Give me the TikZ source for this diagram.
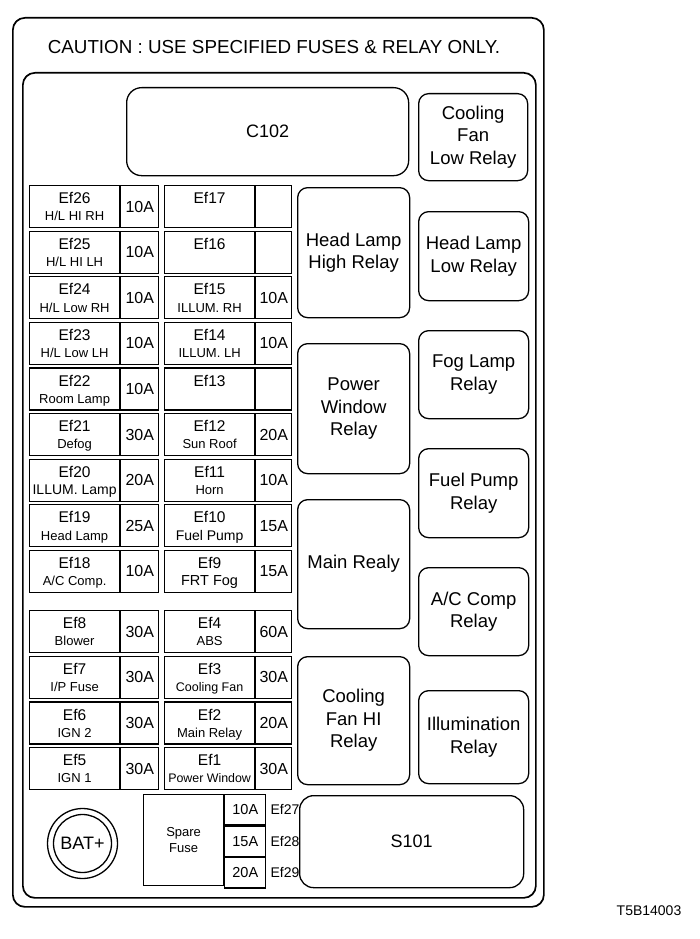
\documentclass[tikz,border=0pt]{standalone}
\usepackage{fontspec}
\setmainfont{Liberation Sans}
\tikzset{
  fbox/.style={draw, line width=1.2pt, inner sep=0pt, anchor=north west},
  relay/.style={draw, line width=1.3pt, rounded corners=10pt, inner sep=0pt, anchor=north west, align=center, font=\fontsize{18.5}{22.5}\selectfont},
  efname/.style={anchor=base, inner sep=0pt, font=\fontsize{15.5}{15.5}\selectfont},
  efsub/.style={anchor=base, inner sep=0pt, font=\fontsize{13}{13}\selectfont},
  ampfont/.style={font=\fontsize{16}{16}\selectfont},
  smalltxt/.style={inner sep=0pt, font=\fontsize{14}{14}\selectfont},
  frame/.style={draw, line width=1.7pt, inner sep=0pt, anchor=north west},
}
% #1 id, #2 x, #3 y(top), #4 name, #5 subtitle, #6 amp, #7 amp width
\newcommand{\fuse}[7]{%
  \node[fbox, minimum width=90, minimum height=42] (#1) at (#2,#3) {};
  \node[fbox, ampfont, minimum width=#7, minimum height=42] (#1a) at (#1.north east) {#6};
  \node[efname] (#1n) at ([yshift=-18.6pt]#1.north) {#4};
  \node[efsub] (#1s) at ([yshift=-35.8pt]#1.north) {#5};
}
\begin{document}
\begin{tikzpicture}[x=1pt, y=-1pt]
\path[use as bounding box, fill=white] (0,0) rectangle (700,939);

% frames
\node[frame, rounded corners=12pt, minimum width=531, minimum height=889] (outer) at (12,17) {};
\node[frame, rounded corners=12pt, minimum width=513, minimum height=825] (inner) at (22,72) {};
\node[anchor=base, inner sep=0pt, font=\fontsize{18.8}{18.8}\selectfont] (caption) at (274,54) {CAUTION : USE SPECIFIED FUSES \& RELAY ONLY.};

% top blocks
\node[relay, rounded corners=15pt, font=\fontsize{18}{18}\selectfont, minimum width=282, minimum height=88] (c102) at (126,87) {C102};
\node[relay, minimum width=109, minimum height=87] (cflow) at (418,93) {Cooling\\Fan\\Low Relay};

% middle relays
\node[relay, minimum width=112, minimum height=130] (hlhigh) at (297,187) {Head Lamp\\High Relay};
\node[relay, minimum width=112, minimum height=130] (pwr) at (297,343) {Power\\Window\\Relay};
\node[relay, minimum width=112, minimum height=129] (main) at (297,499) {Main Realy};
\node[relay, minimum width=112, minimum height=128] (cfhi) at (297,656) {Cooling\\Fan HI\\Relay};

% right relays
\node[relay, minimum width=110, minimum height=89] (hllow) at (418,211) {Head Lamp\\Low Relay};
\node[relay, minimum width=110, minimum height=88] (fog) at (418,330) {Fog Lamp\\Relay};
\node[relay, minimum width=110, minimum height=89] (fuel) at (418,448) {Fuel Pump\\Relay};
\node[relay, minimum width=110, minimum height=88] (acc) at (418,567) {A/C Comp\\Relay};
\node[relay, minimum width=110, minimum height=93] (illum) at (418,690) {Illumination\\Relay};

% left fuse column (upper)
\fuse{f26}{29}{185}{Ef26}{H/L HI RH}{10A}{38}
\fuse{f25}{29}{230.6}{Ef25}{H/L HI LH}{10A}{38}
\fuse{f24}{29}{276.2}{Ef24}{H/L Low RH}{10A}{38}
\fuse{f23}{29}{321.8}{Ef23}{H/L Low LH}{10A}{38}
\fuse{f22}{29}{367.4}{Ef22}{Room Lamp}{10A}{38}
\fuse{f21}{29}{413}{Ef21}{Defog}{30A}{38}
\fuse{f20}{29}{458.6}{Ef20}{\fontsize{14}{14}\selectfont ILLUM. Lamp}{20A}{38}
\fuse{f19}{29}{504.2}{Ef19}{Head Lamp}{25A}{38}
\fuse{f18}{29}{549.8}{Ef18}{A/C Comp.}{10A}{38}

% middle fuse column (upper)
\fuse{f17}{164}{185}{Ef17}{}{}{36}
\fuse{f16}{164}{230.6}{Ef16}{}{}{36}
\fuse{f15}{164}{276.2}{Ef15}{ILLUM. RH}{10A}{36}
\fuse{f14}{164}{321.8}{Ef14}{ILLUM. LH}{10A}{36}
\fuse{f13}{164}{367.4}{Ef13}{}{}{36}
\fuse{f12}{164}{413}{Ef12}{Sun Roof}{20A}{36}
\fuse{f11}{164}{458.6}{Ef11}{Horn}{10A}{36}
\fuse{f10}{164}{504.2}{Ef10}{\fontsize{14}{14}\selectfont Fuel Pump}{15A}{36}
\fuse{f9}{164}{549.8}{Ef9}{\fontsize{14.5}{14.5}\selectfont FRT Fog}{15A}{36}

% lower fuses
\fuse{f8}{29}{610}{Ef8}{Blower}{30A}{38}
\fuse{f7}{29}{655.7}{Ef7}{I/P Fuse}{30A}{38}
\fuse{f6}{29}{701.4}{Ef6}{IGN 2}{30A}{38}
\fuse{f5}{29}{747.1}{Ef5}{IGN 1}{30A}{38}
\fuse{f4}{164}{610}{Ef4}{ABS}{60A}{36}
\fuse{f3}{164}{655.7}{Ef3}{\fontsize{12.5}{12.5}\selectfont Cooling Fan}{30A}{36}
\fuse{f2}{164}{701.4}{Ef2}{Main Relay}{20A}{36}
\fuse{f1}{164}{747.1}{Ef1}{\fontsize{12.4}{12.4}\selectfont Power Window}{30A}{36}

% bottom row
\node[draw, circle, line width=1.3pt, minimum size=70, inner sep=0pt] (batout) at (82.5,843.5) {};
\node[draw, circle, line width=1.3pt, minimum size=58, inner sep=0pt, font=\fontsize{18}{18}\selectfont] (bat) at (82.5,843.5) {BAT+};

\node[fbox, minimum width=80, minimum height=91, align=center, font=\fontsize{13}{16}\selectfont] (spare) at (143,794) {Spare\\Fuse};
\node[fbox, minimum width=41, minimum height=30.33, font=\fontsize{14.5}{14.5}\selectfont] (sp27) at (spare.north east) {10A};
\node[fbox, minimum width=41, minimum height=30.33, font=\fontsize{14.5}{14.5}\selectfont] (sp28) at (sp27.south west) {15A};
\node[fbox, minimum width=41, minimum height=30.33, font=\fontsize{14.5}{14.5}\selectfont] (sp29) at (sp28.south west) {20A};
\node[smalltxt, anchor=west] (ef27) at ([xshift=4pt]sp27.east) {Ef27};
\node[smalltxt, anchor=west] (ef28) at ([xshift=4pt]sp28.east) {Ef28};
\node[smalltxt, anchor=west] (ef29) at ([xshift=4pt]sp29.east) {Ef29};

\node[relay, rounded corners=14pt, font=\fontsize{18}{18}\selectfont, minimum width=224, minimum height=92] (s101) at (299,795) {S101};

\node[smalltxt] (code) at (649,911) {T5B14003};
\end{tikzpicture}
\end{document}
